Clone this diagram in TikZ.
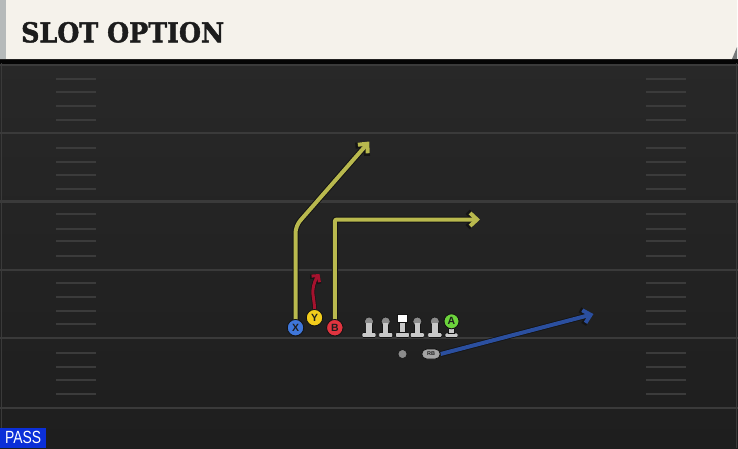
\documentclass[tikz,border=0pt]{standalone}
\usepackage{fontspec}
\usetikzlibrary{arrows.meta,shapes.misc}
\newfontfamily\titlefont{DejaVu Serif}[BoldFeatures={FakeBold=1.6}]
\newfontfamily\labfont{Liberation Sans}
\definecolor{fieldtop}{HTML}{282828}
\definecolor{fieldbot}{HTML}{1E1E1E}
\definecolor{yardc}{HTML}{3A3A3A}
\definecolor{hashc}{HTML}{3B3B3B}
\definecolor{cream}{HTML}{F5F2EB}
\definecolor{stripe}{HTML}{B6BABA}
\definecolor{titlec}{HTML}{1C1C1C}
\definecolor{passblue}{HTML}{0B2FD8}
\definecolor{outl}{HTML}{141414}
\definecolor{letterc}{HTML}{1E1E1E}
\definecolor{xblue}{HTML}{3F76D9}
\definecolor{yyellow}{HTML}{F2CC1C}
\definecolor{bred}{HTML}{E0343F}
\definecolor{agreen}{HTML}{6CD43C}
\definecolor{olivec}{HTML}{B9B94E}
\definecolor{crimson}{HTML}{A5122E}
\definecolor{rbblue}{HTML}{2B4F9F}
\definecolor{headc}{HTML}{8C8C8C}
\definecolor{bodyc}{HTML}{C9C9C9}
\definecolor{rbc}{HTML}{A5A5A5}
\pgfdeclarelayer{fieldlayer}
\pgfdeclarelayer{routelayer}
\pgfsetlayers{fieldlayer,routelayer,main}
\tikzset{
  yardline/.style={draw=yardc, line width=2.2pt},
  hashmark/.style={draw=hashc, line width=1.6pt},
  player/.style={circle, draw=outl, line width=0.9pt, minimum size=16.5pt, inner sep=0pt,
    font=\labfont\bfseries\fontsize{10.5}{10.5}\selectfont, text=letterc},
  oliveroute/.style={draw=olivec, line width=4pt, -{Straight Barb[length=7pt,width=13pt]},
    preaction={draw=outl, line width=6pt, -{Straight Barb[length=8pt,width=15.5pt]}}},
  redroute/.style={draw=crimson, line width=3pt, -{Straight Barb[length=4.5pt,width=10pt]},
    preaction={draw=outl, line width=4.4pt, -{Straight Barb[length=5pt,width=11.5pt]}}},
  blueroute/.style={draw=rbblue, line width=4pt, -{Straight Barb[length=7pt,width=13pt]},
    preaction={draw=outl, line width=5.6pt, -{Straight Barb[length=8pt,width=15pt]}}},
  headdot/.style={circle, fill=headc, draw=outl, line width=0.6pt, minimum size=9pt, inner sep=0pt},
  lineman/.pic={
    \filldraw[fill=bodyc, draw=outl, line width=0.6pt, rounded corners=1.2pt] (-7,11) rectangle (7,16);
    \filldraw[fill=bodyc, draw=outl, line width=0.6pt] (-3,2.5) rectangle (3,11);
    \node[headdot] (-head) at (0,0) {};
    \fill[bodyc] (-2.7,1.5) rectangle (2.7,11.3);
  },
  centerman/.pic={
    \filldraw[fill=bodyc, draw=outl, line width=0.6pt, rounded corners=1.2pt] (-7,11) rectangle (7,16);
    \filldraw[fill=bodyc, draw=outl, line width=0.6pt] (-3,1) rectangle (3,11);
    \node[rectangle, fill=white, draw=outl, line width=0.6pt, minimum width=9.6pt, minimum height=8.8pt, inner sep=0pt] (-head) at (0,-3.3) {};
  },
  tebase/.pic={
    \filldraw[fill=bodyc, draw=outl, line width=0.6pt, rounded corners=1.2pt] (-6.5,11.6) rectangle (6.5,16);
    \filldraw[fill=bodyc, draw=outl, line width=0.6pt] (-3,7) rectangle (3,11.6);
  }
}
\begin{document}
\begin{tikzpicture}[x=1pt,y=-1pt]
\useasboundingbox (0,0) rectangle (738,448);
\begin{pgfonlayer}{fieldlayer}
  % field
  \shade[top color=fieldtop, bottom color=fieldbot] (0,59) rectangle (738,448);
  \fill[black!90!fieldtop] (0,59) rectangle (738,63.5);
  \draw[draw=yardc, line width=0.8pt] (1.2,63) -- (1.2,448);
  \draw[draw=yardc, line width=0.8pt] (736.8,63) -- (736.8,448);
  % yard lines
  \foreach \y in {65,133,201.5,270,338,408} {
    \draw[yardline] (0,\y) -- (738,\y);
  }
  % hash marks
  \foreach \y in {79,92,106,120,148,162,175,189,214,229,241,256,283,297,311,324,353,367,380,394} {
    \draw[hashmark] (56,\y) -- (96,\y);
    \draw[hashmark] (646,\y) -- (686,\y);
  }
  % header
  \fill[cream] (0,0) -- (737,0) -- (737,47) -- (732,59) -- (0,59) -- cycle;
  \fill[stripe] (0,0) rectangle (5.5,59);
  \fill[black!35!stripe] (732,59) -- (737,47) -- (737,59) -- cycle;
\end{pgfonlayer}

\node[anchor=base west, inner sep=0pt, text=titlec] (title) at (21,42.3)
  {\resizebox{203pt}{20.3pt}{\titlefont\bfseries SLOT OPTION}};

\node[fill=passblue, anchor=south west, minimum width=45.7pt, minimum height=20.3pt, inner sep=0pt, text=white] (pass) at (0,448)
  {\resizebox{36pt}{12.3pt}{\labfont PASS}};

% line
\pic (L1) at (369,321.5) {lineman};
\pic (L2) at (385.7,321.5) {lineman};
\pic (C) at (402.5,321.5) {centerman};
\pic (L4) at (417.3,321.5) {lineman};
\pic (L5) at (434.8,321.5) {lineman};
\pic (TE) at (451.5,321.5) {tebase};

% skill players
\node[player, fill=xblue] (X) at (295.5,327.7) {X};
\node[player, fill=yyellow] (Y) at (314.5,317.7) {Y};
\node[player, fill=bred] (B) at (334.8,327.7) {B};
\node[player, fill=agreen, minimum size=15pt] (A) at (451.5,321.3) {A};
\node[circle, fill=headc, draw=outl, line width=0.6pt, minimum size=9pt, inner sep=0pt] (QB) at (402.5,354) {};
\node[rounded rectangle, fill=rbc, draw=outl, line width=0.8pt, minimum width=18.5pt, minimum height=10pt, inner sep=0pt,
  font=\labfont\bfseries\fontsize{5.5}{5.5}\selectfont, text=letterc] (RB) at (431,354) {RB};

% route points
\coordinate (xcorner) at (295.5,226);
\coordinate (xtip) at (369.3,141.5);
\coordinate (bcorner) at (334.8,219.5);
\coordinate (btip) at (480,219.5);
\coordinate (ymid) at (313,289);
\coordinate (ytip) at (319.5,274);
\coordinate (rbtip) at (593.5,314);

\begin{pgfonlayer}{routelayer}
  \draw[oliveroute, rounded corners=7pt] (X.center) -- (xcorner) -- (xtip);
  \draw[oliveroute, rounded corners=2pt] (B.center) -- (bcorner) -- (btip);
  \draw[redroute] (Y.center) .. controls (315.5,302) and (312,296) .. (ymid)
                  .. controls (313.8,283) and (316,278.5) .. (ytip);
  \draw[blueroute] (RB.east) -- (rbtip);
\end{pgfonlayer}
\end{tikzpicture}
\end{document}
